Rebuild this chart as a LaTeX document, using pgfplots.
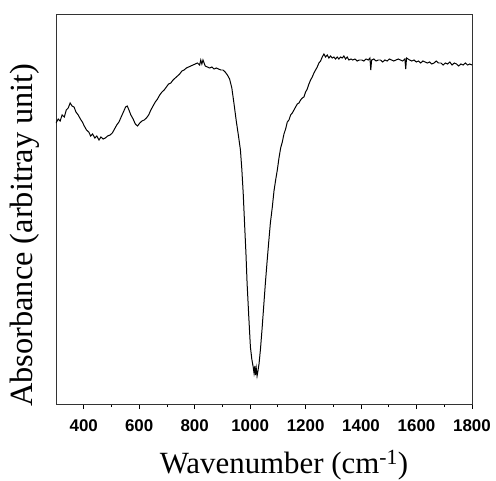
\documentclass[border=0pt]{standalone}
\usepackage{fontspec}
\setmainfont{Liberation Serif}
\newfontfamily\ticksans{Liberation Sans}
\usepackage{pgfplots}
\pgfplotsset{compat=1.18}
\begin{document}
\begin{tikzpicture}
\begin{axis}[
  scale only axis,
  width=416bp, height=390bp,
  xmin=300, xmax=1800, ymin=0, ymax=390,
  xtick={400,600,...,1800},
  minor x tick num=1,
  ytick=\empty,
  xtick pos=bottom,
  tick align=outside,
  major tick length=5bp,
  minor tick length=3bp,
  axis line style={line width=0.9pt, black!80},
  every tick/.style={line width=0.8pt, black},
  /pgf/number format/assume math mode=true,
  /pgf/number format/1000 sep={},
  ticklabel style={font=\ticksans\bfseries\fontsize{17}{20}\selectfont},
  xticklabel style={yshift=-7bp},
  xlabel={Wavenumber (cm\textsuperscript{-1})},
  ylabel={Absorbance (arbitray unit)},
  label style={font=\fontsize{31}{36}\selectfont},
  xlabel style={at={(axis description cs:0.548,-0.177)}, anchor=base},
  ylabel style={font=\fontsize{32.5}{36}\selectfont, at={(axis description cs:-0.0745,0.433)}, anchor=center},
]
\addplot[black, line width=1pt] coordinates {
(300,281)(308,285)(315,283)(322,289)(330,287)(337,294)(344,296)(351,301)(358,298)(365,297)
(372,292)(380,289)(388,285)(395,282)(402,278)(410,274)(418,272)(425,268)(432,270)(440,266)
(447,268)(455,264)(462,267)(470,265)(478,266)(486,268)(495,269)(503,271)(511,275)(519,279)
(527,282)(535,287)(543,292)(551,297)(557,298)(563,294)(570,289)(578,285)(586,280)(594,278)
(602,281)(610,283)(618,284)(626,286)(634,289)(642,294)(650,298)(658,302)(666,305)(674,309)
(682,312)(690,314)(698,317)(706,320)(714,321)(722,324)(730,326)(738,328)(746,330)(754,333)
(762,334)(770,336)(778,337)(786,338)(794,339)(802,340)(810,341)(818,339)(822,344)(826,340)
(830,344)(838,338)(846,337)(854,336)(862,337)(870,335)(878,336)(886,335)(894,334)(902,334)
(910,332)(918,329)(926,325)(934,316)(942,300)(950,283)(958,268)(965,254)(970,235)(975,211)
(980,180)(985,150)(989,121)(995,88)(1001,57)(1006,45)(1011,37)(1014,31)(1017,38)(1019,29)
(1022,36)(1025,28)(1027,31)(1032,40)(1037,54)(1043,75)(1049,98)(1055,121)(1061,142)(1067,162)
(1073,181)(1080,197)(1086,213)(1092,224)(1098,234)(1104,246)(1110,256)(1116,262)(1122,270)(1128,275)
(1134,282)(1140,284)(1146,289)(1152,291)(1158,294)(1164,297)(1170,300)(1176,301)(1182,304)(1188,306)
(1194,307)(1200,312)(1206,315)(1212,320)(1218,324)(1224,327)(1230,331)(1236,334)(1242,337)(1248,341)
(1254,343)(1260,347)(1266,350)(1272,347)(1278,349)(1284,346)(1290,348)(1296,346)(1302,347)(1308,345)
(1314,347)(1320,345)(1326,347)(1332,346)(1338,348)(1344,345)(1350,347)(1356,344)(1364,345)(1370,344)
(1378,345)(1386,343)(1394,344)(1402,344)(1410,343)(1418,345)(1426,344)(1432,346)(1435,334)(1438,344)
(1446,345)(1454,343)(1462,344)(1470,344)(1478,342)(1486,344)(1494,343)(1502,345)(1510,344)(1518,343)
(1526,344)(1534,345)(1542,344)(1550,343)(1558,345)(1561,335)(1564,346)(1575,344)(1583,343)(1591,344)
(1599,342)(1607,343)(1615,341)(1623,343)(1631,342)(1639,341)(1647,342)(1655,340)(1663,341)(1671,343)
(1679,341)(1688,341)(1696,339)(1704,341)(1712,340)(1720,342)(1728,339)(1736,341)(1744,340)(1752,338)
(1760,340)(1768,339)(1776,341)(1784,339)(1792,340)(1800,339)
};
\end{axis}
\pgfresetboundingbox
\path (current axis.south west) ++(-56bp,-77bp) rectangle ++(496bp,481bp);
\end{tikzpicture}
\end{document}
